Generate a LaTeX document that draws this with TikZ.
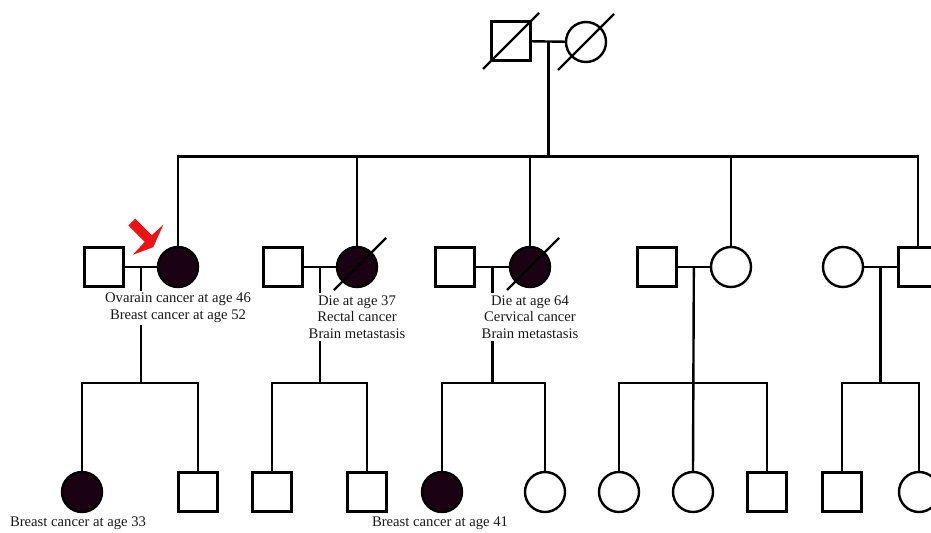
\documentclass[tikz,border=0pt]{standalone}
\usepackage{fontspec}
\setmainfont{Liberation Serif}
\usetikzlibrary{positioning,calc}
\definecolor{affectcol}{RGB}{26,2,18}
\definecolor{probandred}{RGB}{235,20,20}
\tikzset{
	male/.style={draw, rectangle, minimum size=29.5pt, inner sep=0pt},
	female/.style={draw, circle, minimum size=30pt, inner sep=0pt},
	affected/.style={fill=affectcol},
	note/.style={align=center, fill=white, inner sep=1.5pt, text=black!90, font=\fontsize{11}{12.5}\selectfont},
}
\newcommand{\deceased}[3]{\draw ([shift={(-#2,#2)}]#1.center) -- ([shift={(#3,-#3)}]#1.center);}

\begin{document}
\begin{tikzpicture}[x=0.75pt, y=-0.75pt, line width=1.8pt]
		\useasboundingbox (0,0) rectangle (931,532);
		
		% Generation I
		\node[male] (I1) at (511,41) {};
		\node[female] (I2) at (586,42) {};
		\draw (I1) -- (I2);
		\deceased{I1}{28}{28}
		\deceased{I2}{28}{28}
		\coordinate (c0) at ($(I1.east)!0.5!(I2.west)$);
		\draw (c0) -- ++(0,115) coordinate (k0);
		
		% Generation II
		\node[male] (II1) at (104,267) {};
		\node[female, affected] (II2) at (178,267) {};
		\node[male] (II3) at (283,267) {};
		\node[female, affected] (II4) at (357,267) {};
		\node[male] (II5) at (455,267) {};
		\node[female, affected] (II6) at (530,267) {};
		\node[male] (II7) at (657,267) {};
		\node[female] (II8) at (731,267) {};
		\node[female] (II9) at (843,267) {};
		\node[male] (II10) at (918,267) {};
		\deceased{II4}{23}{29}
		\deceased{II6}{23}{29}
		
		\draw (II2.north) |- (k0) -| (II10.north);
		\draw (II4.north) -- (II4.north |- k0);
		\draw (II6.north) -- (II6.north |- k0);
		\draw (II8.north) -- (II8.north |- k0);
		
		\draw (II1) -- (II2);
		\draw (II3) -- (II4);
		\draw (II5) -- (II6);
		\draw (II7) -- (II8);
		\draw (II9) -- (II10);
		
		% Proband arrow
		\fill[probandred] (135.2,218.6) -- (151.8,235.2) -- (163.4,224.6) -- (153.2,247.2)
			-- (132.8,254.8) -- (144.8,241.8) -- (128.4,225.4) -- cycle;
		
		% Generation III
		\node[female, affected] (III1) at (82,492) {};
		\node[male] (III2) at (198,492) {};
		\node[male] (III3) at (272,492) {};
		\node[male] (III4) at (367,492) {};
		\node[female, affected] (III5) at (442,492) {};
		\node[female] (III6) at (545,492) {};
		\node[female] (III7) at (619,492) {};
		\node[female] (III8) at (693,492) {};
		\node[male] (III9) at (767,492) {};
		\node[male] (III10) at (842,492) {};
		\node[female] (III11) at (919,492) {};
		
		\coordinate (c1) at ($(II1.east)!0.5!(II2.west)$);
		\coordinate (c2) at ($(II3.east)!0.5!(II4.west)$);
		\coordinate (c3) at ($(II5.east)!0.5!(II6.west)$);
		\coordinate (c4) at ($(II7.east)!0.5!(II8.west)$);
		\coordinate (c5) at ($(II9.east)!0.5!(II10.west)$);
		
		\draw (c1) -- ++(0,116) coordinate (k1);
		\draw (III1.north) |- (k1) -| (III2.north);
		\draw (c2) -- ++(0,116) coordinate (k2);
		\draw (III3.north) |- (k2) -| (III4.north);
		\draw (c3) -- ++(0,116) coordinate (k3);
		\draw (III5.north) |- (k3) -| (III6.north);
		\draw (c4) -- (III8.north);
		\draw (c4) ++(0,116) coordinate (k4);
		\draw (III7.north) |- (k4) -| (III9.north);
		\draw (c5) -- ++(0,116) coordinate (k5);
		\draw (III10.north) |- (k5) -| (III11.north);
		
		% Notes (drawn last, over the lines)
		\node[note] (t2) at (178,308) {Ovarain cancer at age 46\\Breast cancer at age 52};
		\node[note] (t4) at (357,317) {Die at age 37\\Rectal cancer\\Brain metastasis};
		\node[note] (t6) at (530,317) {Die at age 64\\Cervical cancer\\Brain metastasis};
		\node[note] (t31) at (78,523) {Breast cancer at age 33};
		\node[note] (t35) at (440,523) {Breast cancer at age 41};
\end{tikzpicture}
\end{document}
